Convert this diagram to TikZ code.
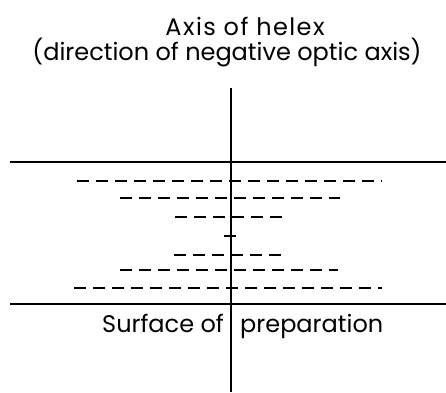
\documentclass[tikz,border=0pt]{standalone}
\usepackage{fontspec}
\setmainfont{Poppins}
\usetikzlibrary{positioning}

\begin{document}
\begin{tikzpicture}[x=1pt,y=-1pt,font=\fontsize{24}{28}\selectfont]
\useasboundingbox (0,0) rectangle (446,392);
\tikzset{label/.style={inner sep=0pt},
  layer/.style={line width=2pt,dash pattern=on 12pt off 7pt},
  plane/.style={line width=1.4pt}}
\node (title) [label, anchor=base] at (245,35) {\addfontfeature{LetterSpace=6}Axis of helex};
\node (sub) [label, anchor=base] at (227,60) {(direction of negative optic axis)};
\coordinate (top) at (231,88);
\coordinate (bot) at (231,392);
\coordinate (ul) at (10,162);
\coordinate (ur) at (446,162);
\coordinate (ll) at (10,304);
\coordinate (lr) at (446,304);
\coordinate (mid) at (231,332);
\node (surf) [label, anchor=base east] at ([xshift=-7pt]mid) {Surface of};
\node (prep) [label, anchor=base west] at ([xshift=9pt]mid) {preparation};
\draw [plane] (top) -- (bot);
\draw [plane] (ul) -- (ur);
\draw [plane] (ll) -- (lr);
% cholesteric layers
\foreach \y/\a/\b in {181/77/382, 198/120/340, 217/175/285, 236/224/242,
                      255/174/284, 270/120/338, 288/74/382}
  \draw [layer] (\a,\y) -- (\b,\y);
\end{tikzpicture}
\end{document}
